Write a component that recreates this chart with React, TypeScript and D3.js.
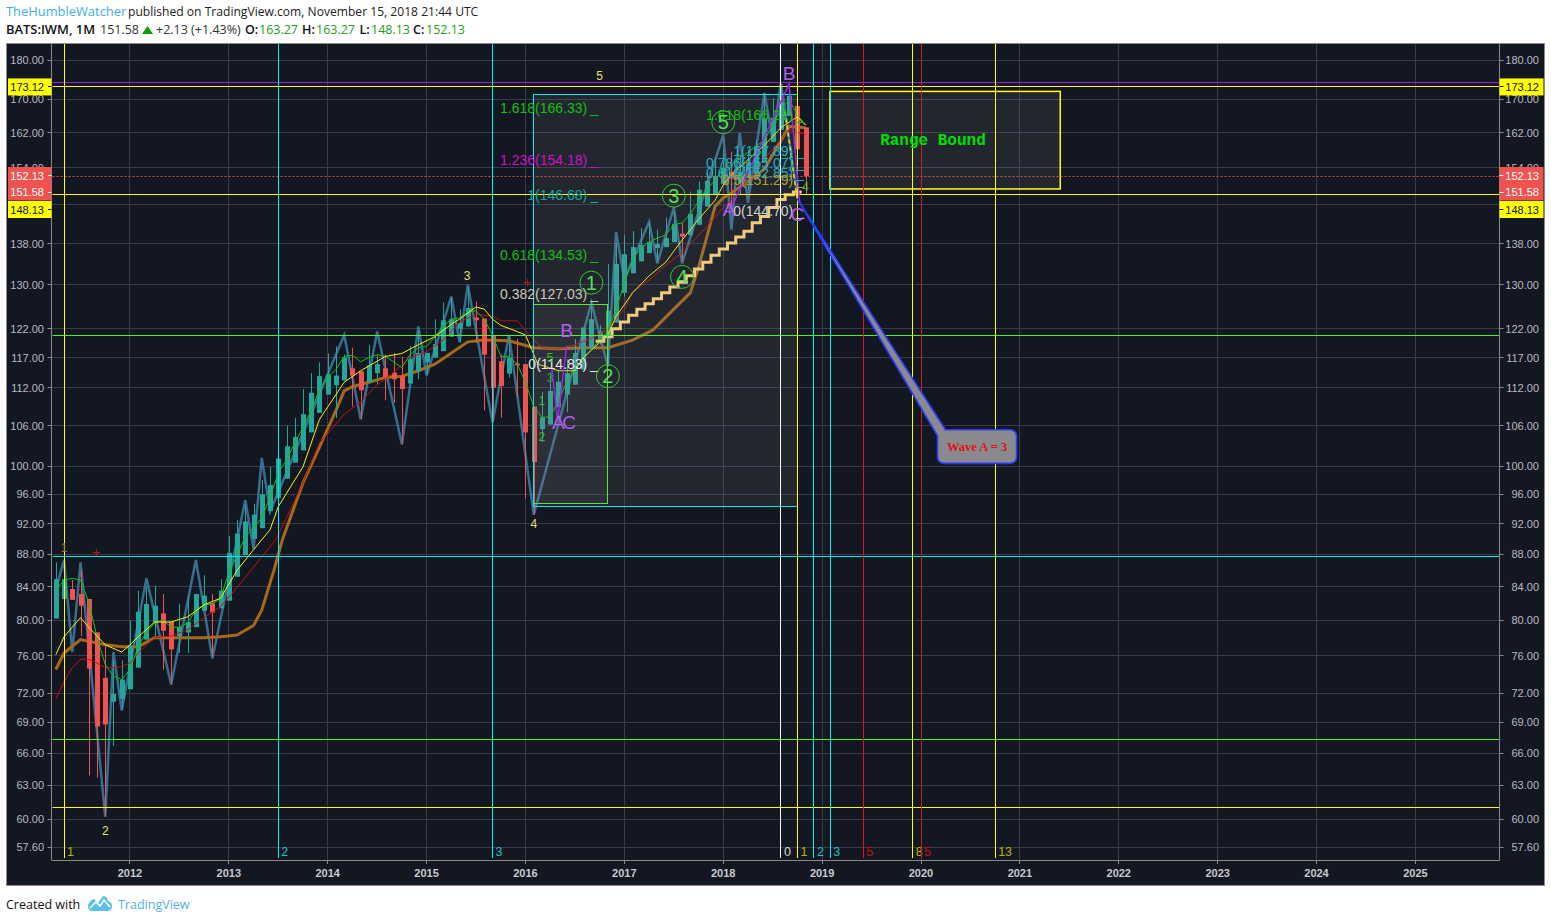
import React from "react";
import * as d3 from "d3";

// ---- data ----
const candleOpen = [80.2,82.5,83.7,83.1,82.5,78.6,73.6,71.1,71.4,72.4,74.7,77.8,79.7,80.8,79.8,78.2,78.6,79.2,81.1,82,81.4,82.3,85.2,87.9,90,91.4,93.7,95.5,98.2,100.5,102.3,105,108,110.9,112.4,113.2,115.2,114.7,112.9,114.4,115.2,114.5,114,112.7,114.7,116.2,117,118.1,120.6,122,122.4,124,123.8,120.9,116.4,114.3,116,115.9,109,105.5,106.2,108.9,110.9,112.5,115,118.5,119.7,120.9,123.1,128.5,132.2,134.5,136.1,137.1,137.3,138.3,140,139.7,141.8,145.6,148.1,150.4,153.1,150.7,151.8,152.6,155.2,159.9,162.7,166,168.4,163.27];
const candleHigh = [87,87.3,84.8,86.1,82.5,78.6,77,75.5,75.5,80,83.5,84,84.1,83.1,79.8,81.9,82.9,83.1,85.4,83.1,84.9,90.4,92.5,94.5,94.7,98,99.9,105.2,106,107.2,111.8,114.4,116.2,117.7,118.9,117.5,118.7,114.7,119.2,117.4,117.5,117.8,117.1,119,121.8,117.8,123.7,126.7,127.8,125.5,129.6,126.9,123.8,120.9,117.5,120.6,120.2,115.9,109,111.3,114.5,115,116.7,120.2,122.2,126.7,122.6,134,138,139.7,140.5,141.1,142.4,140.8,143.3,144.5,142.2,148.8,151,153,156,158,157.6,157,158,160.3,171.6,170.3,173.7,172.7,169.4,163.27];
const candleLow = [80.2,81,82.4,78.2,63.9,63.7,60.2,66.7,70.3,72.4,74.7,77.8,78.2,74.5,72.9,76.3,76.3,79.2,81.1,75.9,81.4,82.3,85.2,87.9,90,91.4,93.7,95.5,98.2,100.5,102.3,105,108,110.9,107.2,113.2,109,107,112.9,112.5,110,109.6,103.2,112.7,113.4,114.2,117,118.1,120.6,119.5,122.4,119.5,108.4,106.8,107.3,113.7,110.5,95.4,93.2,103.5,106.2,108.9,108.1,112.5,115,118.5,119.2,115.6,123.1,127.8,132.2,134.5,136.1,134.4,137.3,138.3,134.4,139.7,141.8,145.6,148.1,150.4,145,148,149,152.6,155.2,159.9,162.7,166,153.8,148.13];
const candleClose = [84.9,84.9,82.4,81.7,74.6,68.6,68.8,71.9,73.4,77.1,81,81.9,81.7,78.8,76.7,79.2,79.8,83.1,82.9,80.9,83.5,88.2,90.7,92.3,93.2,96,97.3,101.1,102.9,104.3,107.8,111.2,113.9,114.2,114,117,114,111.6,115.7,115.9,113.7,113.4,111.8,116.8,117.8,117.8,119.3,123.5,123.7,123,125.7,123.5,117.5,112,112.3,117,115.7,105,100.6,107.3,111.5,113,114.4,117.8,122.2,123.7,121.5,125.2,134,135.9,137.3,137.7,138.3,137.9,139.1,142,139.4,144.1,149.2,151.1,152.2,154,151.6,153,155.2,158.6,165.4,165.6,169.4,170.9,158.2,152.13];

const zigzagIdx = [0,1,2,3,6,7,8,11,14,17,19,23,24,25,26,35,37,39,42,44,45,48,49,50,53,55,58,65,67,68,69,72,73,75,76,81,82,83,84,86,87,88,90];
const zigzagPrice = [83.6,87.3,76.4,87,60.2,76.4,70.2,85,72.9,87.3,75.7,95.2,88.7,101.2,93.6,120.9,107,121.5,103.2,122.4,114,127.8,119.7,130,106.5,120.9,93.2,126.7,115.5,140.3,131,142.4,134.1,145.4,134.1,161.5,140.8,162,146.4,171.6,160.3,174.2,147.7];

const yellowIdx = [0,1,3,4,6,8,9,10,12,14,16,18,20,22,24,26,27,30,32,35,37,40,42,44,46,48,49,51,52,53,54,56,57,58.5,61,63,64,67,68,70,72,74,76,78,80,81,82,86,88,90,91];
const yellowPrice = [76.1,78.1,80.3,79.2,77.2,76.4,77.2,78.1,79.8,79.8,80.4,81.8,82.6,86,88.6,91.2,94.3,99.9,107,112.9,114.8,117.2,117.7,119.2,120.6,122.8,123.7,125.9,125.5,123.7,122.6,121.5,120.9,115.9,114.8,114.8,117,120.9,124.2,128.5,131.7,134.3,138.7,142.9,146.9,150.2,152.5,159.1,163.2,165.8,163.8];

const greenIdx = [0,1,2,3,4,5,6,7,8,9,10,11,12,13,14,15,16,17,18,19,20,21,22,23,24,25,26,27,28,29,30,31,32,33,34,35,36,37,38,39,40,41,42,43,44,45,46,47,48,49,50,51,52,53,54,55,56,57,58,59,60,61,62,63,64,65,66,67,68,69,70,71,72,73,74,75,76,77,78,79,80,81,82,86,87,88,89,90,91];
const greenPrice = [83.6,84.8,85,84.8,82.1,78.1,75,73.8,73.4,74.5,77,78.6,79.7,80,79.2,79.2,79.7,81.2,81.8,81.9,82.6,85.7,87.9,90.3,91.5,92.8,95.6,99,100.9,103.4,105.8,108.4,111.7,113.7,115,117.2,117.4,116.3,117,117.5,117.2,116.3,115.3,117.5,118.7,118.9,120.6,122.4,123.7,123.9,125,125.2,123.7,120.9,117.2,117.2,115.9,112.9,109,107.3,107.4,110,112.9,115,116.7,118.4,120,121.5,125.5,130.4,134.9,137.1,138.3,139.1,139.7,141.8,142.2,144,146.7,149.2,151.3,153.7,154.8,160.3,163.8,167.6,169.9,166.2,163.8];

const redIdx = [0,1,2,3,4,5,6,7,8,9,10,11,12,14,16,18,20,22,24,26.7,28,30,32,35,37,39,41,43,45,47,49,51,53,54,56,58,59,61,63,65,67,69,70,72,74,76,79,81,82,86,89,91];
const redPrice = [71.4,73.2,74.7,75.6,75.6,75.2,74.7,74.7,74.8,75.2,76.3,77.2,78,78.2,78.9,80.3,81.6,83.9,86.4,89.9,92.8,97.6,103.4,107.8,109.7,112.5,114.5,117,118,120,123.2,124.6,124.2,123.4,123.4,120,118.7,118.5,119.2,120.3,121.9,125.5,128.7,130.9,133.7,136.2,141.4,145.4,147,156,162.7,161.5];

const orangeIdx = [0,1,3,6,8,10,12,15,18,20,22,24,25,26.5,27.5,30,32,34,35,36,38,40,42,44,46,48,50,52,55,58,61,64,67,70,72.5,75,77,78,79,80,81,82,86,89,91];
const orangePrice = [74.5,76.3,77.8,77.2,77,77,78,78,78,78.1,78.3,79.4,81.2,86.1,89.9,97.6,102.8,108.4,111.5,112.2,112.9,113.7,113.9,114.8,115.9,117.8,119.7,120,119.9,118.7,118.5,118.7,118.7,120,121.8,125.5,128.5,133.3,139.3,145.6,147.4,148.5,153.7,163.5,163.2];

const stepIdx = [66,67,68,69,70,71,72,73,74,75,76,77,78,79,80,81,82,83,84,85,86,87,88,89,90,91];
const stepPrice = [119.8,120.6,122,123.2,124.4,125.5,126.5,127.4,128.5,129.6,130.5,131.7,133,134.3,135.7,136.9,138.1,139.3,140.5,142.2,143.5,145.4,147.1,148.1,148.7,148.7];

const priceTicks = [180,170,162,154,146,138,130,122,117,112,106,100,96,92,88,84,80,76,72,69,66,63,60,57.6];
const yearTicks = [2012,2013,2014,2015,2016,2017,2018,2019,2020,2021,2022,2023,2024,2025];

const hLines: [number, string][] = [[174.2,"#a020d8"],[173.12,"#ffff00"],[148.13,"#ffff00"],[120.8,"#4cf52a"],[87.75,"#00f0f0"],[67.35,"#4cf52a"],[61,"#ffff00"]];
const vLines: [number, string, string, string][] = [
  [1,"#ffff00","1","#b8b800"],[27,"#00f0f0","2","#12c4c4"],[53,"#00f0f0","3","#12c4c4"],[88,"#ffffff","0","#d8d8d8"],
  [90,"#ffff00","1","#b8b800"],[92,"#00f0f0","2","#12c4c4"],[94,"#00f0f0","3","#12c4c4"],[98,"#dd1818","5","#c01010"],
  [104,"#ffff00","8","#b8b800"],[105,"#dd1818","5","#c01010"],[114,"#ffff00","13","#b8b800"],
];

const leftFib: [string, number, string][] = [
  ["1.618(166.33)",166.33,"#12c012"],["1.236(154.18)",154.18,"#d010c8"],["1(146.68)",146.68,"#12a8a0"],
  ["0.618(134.53)",134.53,"#12c012"],["0.382(127.03)",127.03,"#cfc8b4"],["0(114.83)",114.83,"#e8e8e8"],
];
const rightFib: [string, number, string][] = [
  ["1.618(166.21)",166.21,"#10c010"],["1(157.89)",157.89,"#22b0c0"],["0.786(155.07)",155.07,"#22b0c0"],
  ["0.618(152.85)",152.85,"#22b0c0"],["0.5(151.29)",151.29,"#b0a028"],["0(144.70)",144.7,"#d0d0d0"],
];
const circled: [string, number, number][] = [["1",65,130.4],["2",67,113.9],["3",75,147.9],["4",76,131.5],["5",81,164.5]];
const waveLabels: [string, number, number, string, number][] = [
  ["3",49.9,131.8,"#e4e060",12],["5",66,176,"#e4e060",12],["4",58,92,"#e4e060",12],["2",6,59,"#e4e060",12],["1",1,88.9,"#8a8a30",12],
  ["B",89,176.7,"#b45cf0",19],["B",62,121.7,"#b45cf0",19],["A",61,106.6,"#b45cf0",19],["C",62.3,106.6,"#b45cf0",19],["A",81.7,145,"#b45cf0",19],["C",90,143.9,"#b45cf0",19],
  ["5",60,117,"#2fc02f",12],["3",60,113.7,"#2f9a4f",12],["1",59,110,"#2fc02f",12],["2",59,104.4,"#2fc02f",12],["4",91,149.8,"#2fc02f",12],
  ["+",57.2,130.7,"#a81818",15],["+",4.9,88.4,"#a81818",15],
];
const purpleA: [number, number][] = [[60.2,115.2],[60.9,106.8],[62,119]];
const purpleB: [number, number][] = [[81.8,144.7],[85,157],[89,173.9],[90.3,146]];
const yellowDash: [number, number][] = [[88.5,167],[90,147]];

const LEFT = 51.5, RIGHT = 1499.5, TOP = 44, BOTTOM = 860;
const x = d3.scaleLinear().domain([0, 165]).range([55.8, 1415.4]);
const y = d3.scaleLog().domain([60, 180]).range([819, 60]);
const snap = (v: number) => Math.floor(v) + 0.5;
const pts = (a: number[], b: number[]) => a.map((v, i) => [v, b[i]] as [number, number]);
const line = d3.line<[number, number]>().x(d => x(d[0])).y(d => y(d[1]));
const stepLine = d3.line<[number, number]>().x(d => x(d[0]) - 4).y(d => y(d[1])).curve(d3.curveStepAfter);
const yearX = (yr: number) => x(9 + (yr - 2012) * 12);

const SANS = "'Liberation Sans', Arial, sans-serif";
const HEAD = "'Open Sans', sans-serif";

function Badge({ yc, text, fill, color }: { yc: number; text: string; fill: string; color: string }) {
  return (
    <g fontFamily={SANS} fontSize={11}>
      {[8, RIGHT].map((bx, i) => (
        <g key={i}>
          <rect x={bx} y={yc - 8.5} width={i === 0 ? 43.5 : 44} height={17} fill={fill} />
          <text x={i === 0 ? 44 : 1539} y={yc + 4} textAnchor="end" fill={color}>{text}</text>
          <line x1={i === 0 ? 48 : RIGHT} x2={i === 0 ? LEFT : RIGHT + 4} y1={snap(yc)} y2={snap(yc)} stroke={color} />
        </g>
      ))}
    </g>
  );
}

export default function App() {
  const boxX0 = x(58), boxX1 = x(90);
  const rb = { x0: x(93.95), x1: x(121.9) };
  const apexX = x(90), apexY = y(147.2);
  const cx0 = x(107), cx1 = x(116.6), cy0 = y(105.4), cy1 = y(100.4);
  const r = 7;
  const balloon = `M${apexX},${apexY} L${cx0 + 8},${cy0} L${cx1 - r},${cy0} Q${cx1},${cy0} ${cx1},${cy0 + r} L${cx1},${cy1 - r} Q${cx1},${cy1} ${cx1 - r},${cy1} L${cx0 + r},${cy1} Q${cx0},${cy1} ${cx0},${cy1 - r} L${cx0},${cy0 + 6} Z`;
  return (
    <svg width={1551} height={922} style={{ position: "absolute", left: 0, top: 0, background: "#fff", display: "block" }}>
      {/* header */}
      <g fontFamily={HEAD} fontSize={12.1}>
        <text x={6} y={16} fill="#42aee6" fontSize={12.9}>TheHumbleWatcher</text>
        <text x={128} y={16} fill="#222">published on TradingView.com, November 15, 2018 21:44 UTC</text>
        <text x={6} y={34} fill="#111" fontWeight={600} fontSize={12.9}>BATS:IWM, 1M</text>
        <text x={100} y={34} fill="#333" fontSize={12.5}>151.58</text>
        <path d="M142,34 L147.5,26 L153,34 Z" fill="#09a009" />
        <text x={156} y={34} fill="#333" fontSize={12.5}>+2.13 (+1.43%)</text>
        {[["O:", 245, "163.27", 259], ["H:", 302, "163.27", 316], ["L:", 359.5, "148.13", 371], ["C:", 413, "152.13", 426]].map((d, i) => (
          <g key={i} fontSize={12.5}>
            <text x={d[1] as number} y={34} fill="#111" fontWeight={600}>{d[0]}</text>
            <text x={d[3] as number} y={34} fill="#20a020">{d[2]}</text>
          </g>
        ))}
      </g>

      {/* panel */}
      <rect x={6.5} y={43.5} width={1538} height={842} fill="#131722" stroke="#8a8a8a" />
      {/* grid */}
      <g stroke="#363a4a">
        {priceTicks.map(p => <line key={p} x1={LEFT} x2={RIGHT} y1={snap(y(p))} y2={snap(y(p))} />)}
        {yearTicks.map(t => <line key={t} x1={snap(yearX(t))} x2={snap(yearX(t))} y1={TOP} y2={BOTTOM} />)}
      </g>

      {/* zigzag */}
      <path d={line(pts(zigzagIdx, zigzagPrice)) || ""} fill="none" stroke="#3f84ad" strokeOpacity={0.8} strokeWidth={2.5} />

      {/* slow average runs behind the candles */}
      <path d={line(pts(orangeIdx, orangePrice)) || ""} fill="none" stroke="#a8681a" strokeWidth={3} />

      {/* candles */}
      {candleOpen.map((o, i) => {
        const c = candleClose[i];
        const col = c >= o ? "#26a69a" : "#ef5350";
        const cx = Math.round(x(i));
        const top = y(Math.max(o, c)), bot = y(Math.min(o, c));
        return (
          <g key={i}>
            <line x1={cx + 0.5} x2={cx + 0.5} y1={y(candleHigh[i])} y2={y(candleLow[i])} stroke={col} />
            <rect x={cx - 2} y={top} width={5} height={Math.max(1, bot - top)} fill={col} />
          </g>
        );
      })}

      {/* moving averages */}
      <g fill="none">
        <path d={line(pts(redIdx, redPrice)) || ""} stroke="#c80e0e" strokeWidth={1} />
        <path d={line(pts(greenIdx, greenPrice)) || ""} stroke="#0dc40d" strokeWidth={1} />
        <path d={line(pts(yellowIdx, yellowPrice)) || ""} stroke="#f5f510" strokeWidth={1} />
        <path d={stepLine(pts(stepIdx, stepPrice)) || ""} stroke="#ffd47e" strokeWidth={3} />
      </g>

      {/* boxes */}
      <rect x={snap(boxX0)} y={snap(y(126.3))} width={Math.round(x(67) - boxX0)} height={Math.round(y(94.7) - y(126.3))} fill="#8a8a8a" fillOpacity={0.1} stroke="#4cf52a" />
      <rect x={snap(boxX0)} y={snap(y(171.3))} width={Math.round(boxX1 - boxX0)} height={Math.round(y(94.3) - y(171.3))} fill="#8a8a8a" fillOpacity={0.13} stroke="#00f0f0" />
      <rect x={rb.x0} y={y(172)} width={rb.x1 - rb.x0} height={y(149.35) - y(172)} fill="#8a8a8a" fillOpacity={0.13} stroke="#ffff10" strokeWidth={1.5} />

      {/* horizontal & vertical drawing lines */}
      {hLines.map(([p, c], i) => <line key={i} x1={LEFT + 1} x2={RIGHT} y1={snap(y(p))} y2={snap(y(p))} stroke={c} />)}
      <line x1={LEFT + 1} x2={RIGHT} y1={snap(y(152.13))} y2={snap(y(152.13))} stroke="#ef5350" strokeDasharray="2 2" strokeOpacity={0.9} />
      {vLines.map(([i, c, t, tc]) => (
        <g key={i}>
          <line x1={snap(x(i))} x2={snap(x(i))} y1={TOP} y2={858} stroke={c} />
          <text x={x(i) + 3} y={856} fontFamily={SANS} fontSize={12.5} fill={tc}>{t}</text>
        </g>
      ))}

      {/* purple waves */}
      <path d={line(purpleA) || ""} fill="none" stroke="#9828e8" strokeWidth={1.5} />
      <path d={line(purpleB) || ""} fill="none" stroke="#9828e8" strokeWidth={1.5} />
      <path d={line(yellowDash) || ""} fill="none" stroke="#e8e020" strokeWidth={1.5} strokeDasharray="4 3" />

      {/* fib labels */}
      <g fontFamily={SANS} fontSize={14}>
        {leftFib.map(([t, p, c]) => (
          <g key={t}>
            <text x={x(64.5)} y={y(p) - 1.5} textAnchor="end" fill={c}>{t}</text>
            <text x={x(64.5) + 3} y={y(p) - 1.5} fill={c}>_</text>
          </g>
        ))}
        {rightFib.map(([t, p, c]) => (
          <g key={t}>
            <text x={x(89.5)} y={y(p) + 5} textAnchor="end" fill={c}>{t}</text>
            <text x={x(89.5) + 3} y={y(p) + 5} fill={c}>_</text>
          </g>
        ))}
      </g>

      {/* circled waves */}
      {circled.map(([t, i, p]) => (
        <g key={t}>
          <circle cx={x(i)} cy={y(p)} r={11.5} fill="none" stroke="#35c835" strokeWidth={1} />
          <text x={x(i)} y={y(p) + 7} textAnchor="middle" fontFamily={SANS} fontSize={20} fill="#50e050">{t}</text>
        </g>
      ))}
      {waveLabels.map(([t, i, p, c, s], k) => (
        <text key={k} x={x(i)} y={y(p) + s * 0.36} textAnchor="middle" fontFamily={SANS} fontSize={s} fill={c}>{t}</text>
      ))}

      {/* range text */}
      <text x={x(106.45)} y={y(160.1) + 4.5} textAnchor="middle" fontFamily="'Liberation Mono', monospace" fontWeight="bold" fontSize={16} fill="#00e000">Range Bound</text>

      {/* callout */}
      <path d={balloon} fill="#8a8a8e" stroke="#2a3cff" strokeWidth={1.6} strokeLinejoin="round" />
      <text x={(cx0 + cx1) / 2} y={(cy0 + cy1) / 2 + 4} textAnchor="middle" fontFamily="'Liberation Serif', serif" fontWeight="bold" fontSize={12.5} fill="#e01212">Wave A = 3</text>

      {/* axes */}
      <g stroke="#8a8a8a">
        <line x1={LEFT} x2={LEFT} y1={TOP} y2={BOTTOM} />
        <line x1={RIGHT} x2={RIGHT} y1={TOP} y2={BOTTOM} />
        <line x1={LEFT} x2={RIGHT} y1={BOTTOM + 0.5} y2={BOTTOM + 0.5} />
        {yearTicks.map(t => <line key={t} x1={snap(yearX(t))} x2={snap(yearX(t))} y1={BOTTOM} y2={BOTTOM + 4} />)}
        {priceTicks.map(p => (
          <g key={p}>
            <line x1={LEFT - 4} x2={LEFT} y1={snap(y(p))} y2={snap(y(p))} />
            <line x1={RIGHT} x2={RIGHT + 4} y1={snap(y(p))} y2={snap(y(p))} />
          </g>
        ))}
      </g>
      <g fontFamily={SANS} fontSize={11} fill="#b8bac2">
        {priceTicks.map(p => (
          <g key={p}>
            <text x={44} y={y(p) + 4} textAnchor="end">{p.toFixed(2)}</text>
            <text x={1539} y={y(p) + 4} textAnchor="end">{p.toFixed(2)}</text>
          </g>
        ))}
      </g>
      <g fontFamily={SANS} fontSize={11} fontWeight="bold" fill="#c8cad0">
        {yearTicks.map(t => <text key={t} x={yearX(t)} y={877} textAnchor="middle">{t}</text>)}
      </g>

      {/* price badges */}
      <Badge yc={y(173.12)} text="173.12" fill="#ffff00" color="#111" />
      <Badge yc={175.5} text="152.13" fill="#ef5350" color="#fff" />
      <Badge yc={192} text="151.58" fill="#ef5350" color="#fff" />
      <Badge yc={209.5} text="148.13" fill="#ffff00" color="#111" />

      {/* footer */}
      <g fontFamily={HEAD} fontSize={12.5}>
        <text x={6} y={909} fill="#111">Created with</text>
        <path d="M88,905 Q90,900 94,899 L98,903 L103,896 Q107,896 108,901 Q112,902 112,906 Q112,911 107,911 L92,911 Q88,911 88,905 Z" fill="#5bc0eb" />
        <path d="M90,908 L96,902 L100,906 L104,900 L110,907" fill="none" stroke="#fff" strokeWidth={1.6} />
        <text x={118} y={909} fill="#4fb2e3">TradingView</text>
      </g>
    </svg>
  );
}
